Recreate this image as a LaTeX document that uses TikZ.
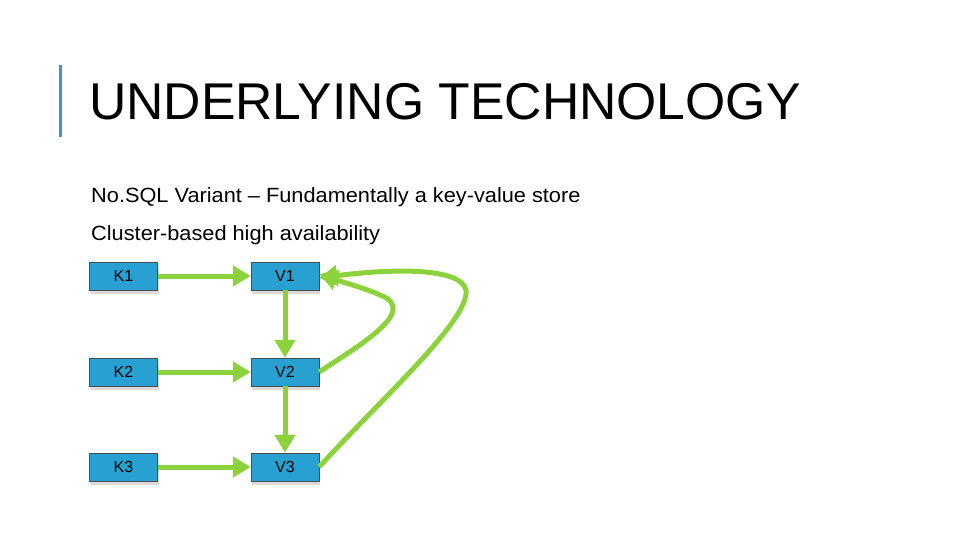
\documentclass[tikz,border=0pt]{standalone}
\usepackage{fontspec}
\setmainfont{Liberation Sans}
\usetikzlibrary{arrows.meta,shadows}
\definecolor{boxblue}{RGB}{40,160,210}
\definecolor{bar}{RGB}{60,150,200}
\definecolor{grn}{RGB}{140,210,60}
\begin{document}
\begin{tikzpicture}[x=1pt,y=-1pt,
  kv/.style={draw=black!70,fill=boxblue,minimum width=68pt,minimum height=28pt,inner sep=0pt,font=\fontsize{16}{16}\selectfont,drop shadow={opacity=0.3,shadow xshift=1pt,shadow yshift=-4pt}},
  conn/.style={draw=grn,line width=5pt,-{Triangle[length=18pt,width=20pt]}},
  txt/.style={anchor=base west,inner sep=0pt}]
\useasboundingbox (0,0) rectangle (960,540);
\fill[bar] (59,65) rectangle (62,137);
\node[txt,font=\fontsize{51.7}{52}\selectfont] (title) at (89,120) {UNDERLYING TECHNOLOGY};
\node[txt,font=\fontsize{20.6}{21}\selectfont,xscale=1.056] (b1) at (91,202) {No.SQL Variant – Fundamentally a key-value store};
\node[txt,font=\fontsize{20.6}{21}\selectfont,xscale=1.056] (b2) at (91,240) {Cluster-based high availability};
\foreach \n/\x/\y in {K1/123.5/276,V1/285/276,K2/123.5/372,V2/285/372,K3/123.5/467,V3/285/467}
  \node[kv] (\n) at (\x,\y) {\n};
\draw[conn] (K1) -- (V1);
\draw[conn] (K2) -- (V2);
\draw[conn] (K3) -- (V3);
\draw[conn] (V1) -- (V2);
\draw[conn] (V2) -- (V3);
\draw[conn] (V2.east) .. controls (360,345) and (420,310) .. (380,295) .. controls (365,288) and (345,283) .. ([yshift=2pt]V1.east);
\draw[conn] (V3.east) .. controls (380,400) and (470,320) .. (466,290) .. controls (460,265) and (380,270) .. ([yshift=-2pt]V1.east);
\end{tikzpicture}
\end{document}
